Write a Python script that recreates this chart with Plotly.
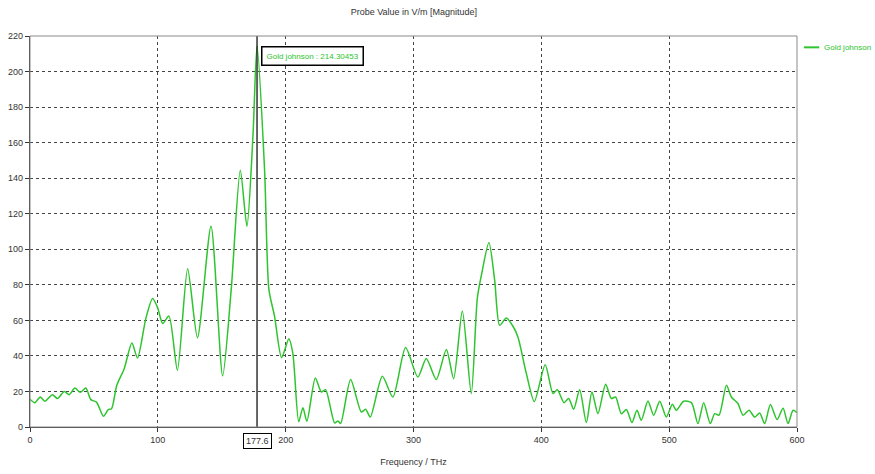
import plotly.graph_objects as go

# Probe spectrum (magnitude, V/m) versus frequency (THz)
freq_thz = [0, 3.8, 8, 11.6, 17.6, 21.5, 26.8, 30.7, 35.1, 39.3, 43.7, 47.6, 52, 57.5, 61.2, 63.8,
            67.9, 73.7, 79.7, 84.1, 90.6, 95.9, 99.8, 103.8, 108.7, 115.3, 123.3, 131, 141.6, 150.7,
            157.4, 164.5, 169.7, 174.4, 177.6, 183.5, 186.9, 191.3, 196.8, 202.5, 205.6, 210.2, 213.5,
            216.6, 223.2, 227.9, 231.2, 238.3, 240.9, 243, 250.8, 259.2, 262.5, 266.2, 275.6, 283.9,
            293.8, 303.4, 310, 317.8, 325.7, 331.4, 338.2, 345.2, 349.9, 353.1, 359, 363.5, 367.4,
            372.6, 377.8, 381.7, 388.3, 394.5, 403, 409.1, 412.5, 417.7, 421.4, 425.3, 430, 435.2,
            439.6, 444.3, 450.3, 454.8, 458.1, 462.6, 466.5, 470.9, 474.8, 478.2, 483.4, 487.9, 492.6,
            497.8, 502.5, 505.6, 511.3, 517.4, 522.5, 527, 532.2, 535.6, 539, 544.8, 548.7, 553.8,
            557.8, 562.5, 566.9, 570.8, 574.7, 579.2, 584.4, 589.1, 593, 596.9, 600]
magnitude = [15.6, 13.7, 16.9, 14.5, 18.2, 16, 20, 18.2, 21.9, 19.5, 21.9, 15.4, 14, 6, 9.8, 10.3,
             23.5, 32.8, 47.3, 38.8, 61, 72.3, 67.2, 58.3, 62.4, 32, 89.1, 50.2, 113, 28.8,
             77.3, 144.4, 113, 163.6, 214.30453, 144.8, 77.3, 62.3, 39, 49.6, 41.5, 3, 10.9,
             3.2, 27.6, 19.7, 21, 2.3, 3.4, 1.9, 26.7, 8.4, 10, 5.6, 28.5, 16.9,
             44.7, 28.1, 38.5, 26.7, 43.6, 27.2, 65.3, 18.8, 72.3, 85.4, 103.8, 82.6, 57.2,
             61.3, 56.7, 50.6, 30, 14.3, 35, 18.8, 21, 13.7, 16, 10, 21, 2.5,
             19.7, 7.5, 24, 16, 16.9, 7.5, 9.8, 2.5, 9.4, 3.8, 14.6, 6.6, 14.5,
             5.6, 12.8, 9.4, 14.5, 13.7, 1.9, 13.7, 1.9, 7.5, 6.6, 23.5, 16.9, 13.2,
             6.6, 9.4, 5.6, 7.9, 1.9, 12.6, 4.2, 10.5, 1.9, 9.4, 8.1]

series_name = "Gold johnson"
marker_freq = 177.6
marker_value = 214.30453
x_ticks = [0, 100, 200, 300, 400, 500, 600]
y_ticks = [0, 20, 40, 60, 80, 100, 120, 140, 160, 180, 200, 220]

FONT = "Liberation Sans, Arial, sans-serif"
GREEN = "#2ec42e"
TEXT = "#333333"

fig = go.Figure()
fig.add_trace(go.Scatter(
    x=freq_thz, y=magnitude, mode="lines", name=series_name, showlegend=False,
    line=dict(color=GREEN, width=1.5, shape="spline", smoothing=0.7),
))

# vertical marker line at the peak
fig.add_shape(type="line", x0=marker_freq, x1=marker_freq, y0=0, y1=220,
              xref="x", yref="y", line=dict(color="black", width=1.2))

# frame on top / right
fig.add_shape(type="rect", x0=0, x1=1, y0=0, y1=1, xref="paper", yref="paper",
              line=dict(color="#8a8a8a", width=1), layer="above")

# marker value readout
fig.add_annotation(x=marker_freq, y=209, xref="x", yref="y", xanchor="left", yanchor="middle",
                   xshift=4, text=f"{series_name} : {marker_value:.5f}", showarrow=False,
                   font=dict(family=FONT, size=8, color=GREEN),
                   bordercolor="black", borderwidth=1.5, borderpad=4, bgcolor="white")

# marker frequency on the x axis
fig.add_annotation(x=marker_freq, y=0, xref="x", yref="paper", yanchor="top", yshift=-6,
                   text=f"{marker_freq}", showarrow=False,
                   font=dict(family=FONT, size=9, color=TEXT),
                   bordercolor="black", borderwidth=1, borderpad=2, bgcolor="white")

# series key at the right of the plot
fig.add_shape(type="line", xref="paper", yref="paper", x0=1.009, x1=1.029, y0=0.971, y1=0.971,
              line=dict(color=GREEN, width=2))
fig.add_annotation(x=1.033, y=0.971, xref="paper", yref="paper", xanchor="left", yanchor="middle",
                   text=series_name, showarrow=False,
                   font=dict(family=FONT, size=8, color=GREEN))

axis_common = dict(
    showgrid=True, gridcolor="#444444", griddash="dot", gridwidth=1,
    showline=True, linecolor=TEXT, linewidth=1.2,
    ticks="outside", ticklen=4, tickcolor=TEXT,
    tickfont=dict(family=FONT, size=9, color=TEXT),
    zeroline=False, fixedrange=True, automargin=False,
)

fig.update_layout(
    width=875, height=474,
    margin=dict(l=30, r=78, t=36, b=47),
    paper_bgcolor="white", plot_bgcolor="white",
    title=dict(text="Probe Value in V/m [Magnitude]", x=0.473, xanchor="center",
               y=0.975, yanchor="middle",
               font=dict(family=FONT, size=9, color=TEXT)),
    xaxis=dict(range=[0, 600], tickvals=x_ticks,
               title=dict(text="Frequency / THz", standoff=14,
                          font=dict(family=FONT, size=9, color=TEXT)),
               **axis_common),
    yaxis=dict(range=[0, 220], tickvals=y_ticks, **axis_common),
    showlegend=False,
)

fig.write_html("out.html")
